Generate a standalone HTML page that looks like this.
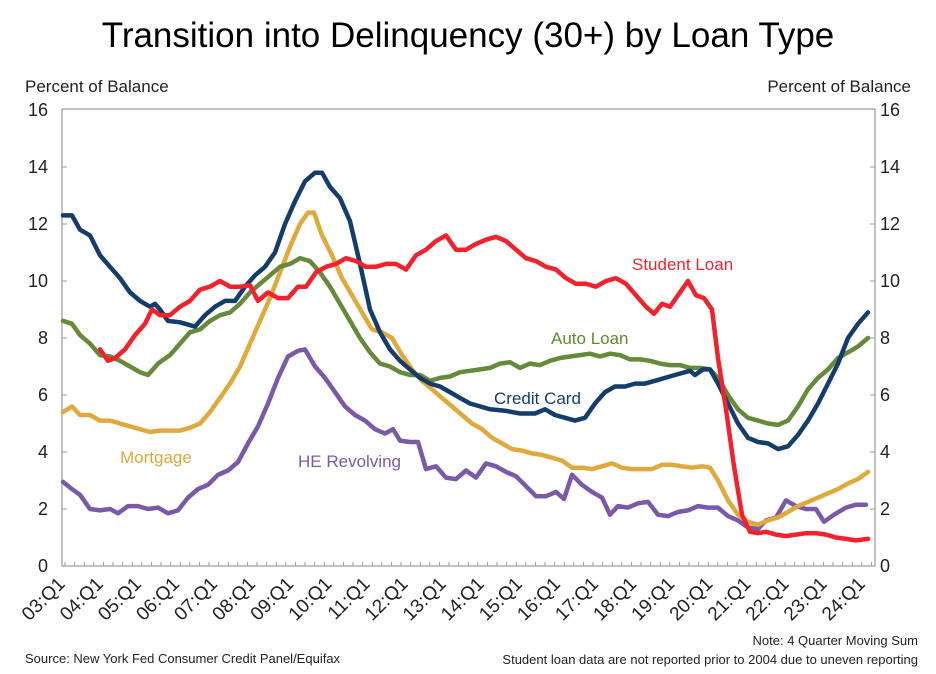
<!DOCTYPE html>
<html><head><meta charset="utf-8"><style>
body{margin:0;background:#fff;}
svg{display:block;font-family:"Liberation Sans",Arial,sans-serif;}
</style></head><body>
<svg id="s" width="936" height="674" viewBox="0 0 936 674" xmlns="http://www.w3.org/2000/svg">
<rect width="936" height="674" fill="#fff"/>
<text x="468" y="47" font-size="35" text-anchor="middle" fill="#000">Transition into Delinquency (30+) by Loan Type</text>
<text x="25" y="92" font-size="17" fill="#222">Percent of Balance</text>
<text x="911" y="92" font-size="17" fill="#222" text-anchor="end">Percent of Balance</text>
<rect x="62" y="109" width="813" height="457" fill="none" stroke="#999" stroke-width="1.2"/>
<g id="axes" font-size="18" fill="#222"></g>
<g id="lines" fill="none" stroke-width="4.5" stroke-linejoin="round" stroke-linecap="round"></g>
<text x="632" y="270" font-size="17" fill="#ee2530">Student Loan</text>
<text x="551" y="344" font-size="17" fill="#5e8a2f">Auto Loan</text>
<text x="494" y="404" font-size="17" fill="#153d6b">Credit Card</text>
<text x="120" y="463" font-size="17" fill="#dba83a">Mortgage</text>
<text x="298" y="467" font-size="17" fill="#7a5aa8">HE Revolving</text>
<text x="918" y="645" font-size="13" fill="#222" text-anchor="end">Note: 4 Quarter Moving Sum</text>
<text x="25" y="663" font-size="13" fill="#222">Source: New York Fed Consumer Credit Panel/Equifax</text>
<text x="918" y="664" font-size="13" fill="#222" text-anchor="end">Student loan data are not reported prior to 2004 due to uneven reporting</text>
</svg>
<script>
const NS="http://www.w3.org/2000/svg";
const Y=v=>566-v*28.5;
const ax=document.getElementById('axes');
function el(t,a,p,txt){const e=document.createElementNS(NS,t);for(const k in a)e.setAttribute(k,a[k]);if(txt!==undefined)e.textContent=txt;p.appendChild(e);return e;}
for(let v=0;v<=16;v+=2){
 el('text',{x:48,y:Y(v)+6,'text-anchor':'end'},ax,v);
 el('text',{x:880,y:Y(v)+6},ax,v);
 if(v>0&&v<16){el('line',{x1:62,x2:67,y1:Y(v),y2:Y(v),stroke:'#999'},ax);el('line',{x1:870,x2:875,y1:Y(v),y2:Y(v),stroke:'#999'},ax);}
}
for(let i=0;i<=84;i++){const x=65+i*9.6;el('line',{x1:x,x2:x,y1:562,y2:566,stroke:'#999'},ax);}
for(let yr=3;yr<=24;yr++){
 const x=66+(yr-3)*38.1, y=585;
 const lab=(yr<10?'0':'')+yr+':Q1';
 el('text',{x:x,y:y,'text-anchor':'end','font-size':'19',transform:`rotate(-45 ${x} ${y})`},ax,lab);
}
const L=document.getElementById('lines');
function draw(pts,c){el('polyline',{points:pts.map(p=>p[0]+','+Y(p[1]).toFixed(1)).join(' '),stroke:c},L);}
const he=[[63,2.95],[72,2.7],[80,2.5],[90,2.0],[100,1.95],[110,2.0],[118,1.85],[128,2.1],[138,2.1],[148,2.0],[158,2.05],[168,1.85],[178,1.95],[188,2.4],[198,2.7],[208,2.85],[218,3.2],[228,3.35],[238,3.65],[248,4.3],[258,4.9],[268,5.7],[278,6.6],[288,7.35],[298,7.55],[305,7.6],[315,7.0],[325,6.6],[335,6.1],[345,5.6],[355,5.3],[365,5.1],[375,4.8],[385,4.65],[393,4.8],[400,4.4],[410,4.35],[418,4.35],[426,3.4],[436,3.5],[446,3.1],[456,3.05],[466,3.35],[476,3.1],[486,3.6],[496,3.5],[506,3.3],[516,3.15],[526,2.8],[536,2.45],[546,2.45],[556,2.6],[564,2.35],[572,3.2],[582,2.85],[592,2.6],[602,2.4],[610,1.8],[618,2.1],[628,2.05],[638,2.2],[648,2.25],[658,1.8],[668,1.75],[678,1.9],[688,1.95],[698,2.1],[708,2.05],[718,2.05],[728,1.75],[738,1.6],[748,1.35],[758,1.3],[766,1.6],[776,1.7],[786,2.3],[796,2.1],[806,2.0],[816,2.0],[824,1.55],[834,1.8],[846,2.05],[856,2.15],[866,2.15]];
const mort=[[63,5.4],[72,5.6],[80,5.3],[90,5.3],[100,5.1],[110,5.1],[120,5.0],[130,4.9],[140,4.8],[150,4.7],[160,4.75],[170,4.75],[180,4.75],[190,4.85],[200,5.0],[210,5.4],[220,5.9],[230,6.4],[240,7.0],[250,7.8],[260,8.6],[270,9.4],[280,10.3],[290,11.2],[300,12.0],[308,12.4],[314,12.4],[322,11.6],[332,10.9],[342,10.1],[352,9.5],[362,8.9],[372,8.3],[382,8.2],[392,8.0],[402,7.4],[412,6.9],[422,6.5],[432,6.2],[442,5.9],[452,5.6],[462,5.3],[472,5.0],[482,4.8],[492,4.5],[502,4.3],[512,4.1],[522,4.05],[532,3.95],[542,3.9],[552,3.8],[562,3.7],[572,3.45],[582,3.45],[592,3.4],[602,3.5],[612,3.6],[622,3.45],[632,3.4],[642,3.4],[652,3.4],[662,3.55],[672,3.55],[682,3.5],[692,3.45],[702,3.5],[710,3.45],[718,3.0],[728,2.3],[738,1.8],[748,1.55],[758,1.45],[768,1.6],[778,1.7],[788,1.9],[798,2.1],[808,2.25],[818,2.4],[828,2.55],[838,2.7],[848,2.9],[858,3.05],[868,3.3]];
const auto=[[63,8.6],[72,8.5],[80,8.1],[90,7.8],[100,7.4],[110,7.35],[120,7.2],[130,7.0],[140,6.8],[148,6.7],[158,7.1],[170,7.4],[180,7.8],[190,8.2],[200,8.3],[210,8.6],[220,8.8],[230,8.9],[240,9.2],[250,9.6],[260,9.9],[270,10.2],[280,10.5],[290,10.6],[300,10.8],[310,10.7],[320,10.3],[330,9.8],[340,9.2],[350,8.6],[360,8.0],[370,7.5],[380,7.1],[390,7.0],[400,6.8],[410,6.7],[420,6.7],[430,6.5],[440,6.6],[450,6.65],[460,6.8],[470,6.85],[480,6.9],[490,6.95],[500,7.1],[510,7.15],[520,6.95],[530,7.1],[540,7.05],[550,7.2],[560,7.3],[570,7.35],[580,7.4],[590,7.45],[600,7.35],[610,7.45],[620,7.4],[630,7.25],[640,7.25],[650,7.2],[660,7.1],[670,7.05],[680,7.05],[690,6.95],[700,6.95],[710,6.9],[718,6.6],[728,6.0],[738,5.5],[748,5.2],[758,5.1],[768,5.0],[778,4.95],[788,5.1],[798,5.6],[808,6.2],[818,6.6],[828,6.9],[838,7.3],[848,7.5],[858,7.7],[868,8.0]];
const cc=[[63,12.3],[72,12.3],[80,11.8],[90,11.6],[100,10.9],[110,10.5],[120,10.1],[130,9.6],[140,9.3],[150,9.1],[155,9.2],[160,9.0],[168,8.6],[180,8.55],[195,8.4],[205,8.8],[215,9.1],[225,9.3],[235,9.3],[245,9.8],[255,10.2],[265,10.5],[275,11.0],[285,12.0],[295,12.8],[305,13.5],[315,13.8],[322,13.8],[330,13.3],[340,12.9],[350,12.1],[360,10.6],[370,9.0],[380,8.2],[390,7.6],[400,7.2],[410,6.9],[420,6.6],[430,6.4],[440,6.3],[450,6.1],[460,5.9],[470,5.7],[480,5.6],[490,5.5],[505,5.45],[520,5.35],[535,5.35],[545,5.5],[555,5.3],[565,5.2],[575,5.1],[585,5.2],[595,5.7],[605,6.1],[615,6.3],[625,6.3],[635,6.4],[645,6.4],[655,6.5],[665,6.6],[675,6.7],[690,6.85],[695,6.7],[703,6.9],[710,6.9],[718,6.4],[728,5.7],[738,5.0],[748,4.5],[758,4.35],[768,4.3],[778,4.1],[788,4.2],[798,4.6],[808,5.1],[818,5.7],[828,6.4],[838,7.1],[848,8.0],[858,8.5],[868,8.9]];
const sl=[[100,7.6],[108,7.2],[115,7.3],[125,7.6],[135,8.1],[145,8.5],[152,9.0],[160,8.8],[170,8.8],[180,9.1],[190,9.3],[200,9.7],[210,9.8],[220,10.0],[230,9.8],[240,9.8],[250,9.85],[258,9.3],[268,9.6],[278,9.4],[288,9.4],[298,9.8],[306,9.8],[316,10.3],[326,10.5],[336,10.6],[346,10.8],[356,10.7],[366,10.5],[376,10.5],[386,10.6],[396,10.6],[406,10.4],[416,10.9],[426,11.1],[436,11.4],[446,11.6],[456,11.1],[466,11.1],[476,11.3],[486,11.45],[496,11.55],[506,11.4],[516,11.1],[526,10.8],[536,10.7],[546,10.5],[556,10.4],[566,10.1],[576,9.9],[586,9.9],[596,9.8],[606,10.0],[616,10.1],[626,9.9],[636,9.5],[646,9.1],[654,8.85],[662,9.2],[670,9.1],[678,9.5],[688,10.0],[696,9.5],[704,9.4],[712,9.0],[718,7.3],[726,5.5],[734,3.5],[742,1.8],[750,1.2],[758,1.15],[766,1.2],[776,1.1],[786,1.05],[796,1.1],[806,1.15],[816,1.15],[826,1.1],[836,1.0],[846,0.95],[856,0.9],[868,0.95]];
draw(he,'#7a5aa8');draw(mort,'#dfa93c');draw(auto,'#66893a');draw(cc,'#153d6b');draw(sl,'#f2212c');
</script>
</body></html>
